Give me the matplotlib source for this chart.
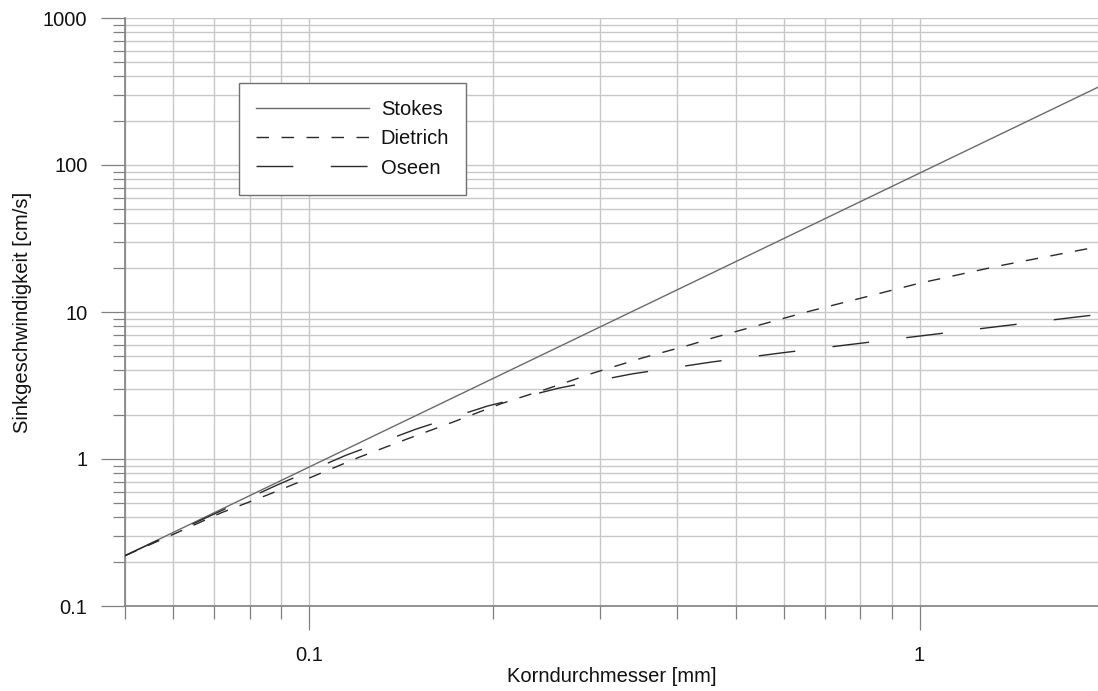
import matplotlib
matplotlib.use("Agg")
import matplotlib.pyplot as plt
from matplotlib.ticker import FixedLocator, FixedFormatter, NullFormatter

plt.rcParams['font.family'] = ['Liberation Sans', 'DejaVu Sans']

# Korndurchmesser [mm] / Sinkgeschwindigkeit [cm/s]
d_stokes = [0.05, 0.1, 0.2, 0.5, 1.0, 2.0]
v_stokes = [0.22, 0.88, 3.52, 22.0, 88.0, 352.0]

d_dietrich = [0.05, 0.0607, 0.0718, 0.0855, 0.102, 0.121, 0.145, 0.172, 0.206,
              0.245, 0.292, 0.351, 0.42, 0.458, 0.653, 1.0, 1.35, 1.95, 2.0]
v_dietrich = [0.22, 0.314, 0.43, 0.569, 0.766, 1.03, 1.37, 1.78, 2.37,
              2.99, 3.84, 4.86, 5.96, 6.65, 10.0, 15.7, 20.6, 27.7, 28.2]

d_oseen = [0.05, 0.068, 0.0887, 0.115, 0.15, 0.196, 0.257, 0.338, 0.457,
           0.592, 0.783, 1.035, 1.367, 1.81, 2.0]
v_oseen = [0.22, 0.40, 0.665, 1.06, 1.6, 2.29, 3.04, 3.79, 4.57,
           5.26, 6.06, 6.98, 8.03, 9.25, 9.7]

x_major = [0.1, 1]
x_labels = ["0.1", "1"]
y_major = [0.1, 1, 10, 100, 1000]
y_labels = ["0.1", "1", "10", "100", "1000"]

fs = 14.5
grid_col = "#c8c8c8"
axis_col = "#808080"

fig = plt.figure(figsize=(10.98, 6.91), dpi=100)
ax = fig.add_axes([125 / 1098, 85 / 691, 973 / 1098, 588 / 691])
ax.set_xscale("log")
ax.set_yscale("log")
ax.set_xlim(0.05, 1.96)
ax.set_ylim(0.1, 1000)

ax.plot(d_stokes, v_stokes, color="#6a6a6a", lw=1.0, label="Stokes", zorder=3)
ax.plot(d_dietrich, v_dietrich, color="#2a2a2a", lw=1.0,
        linestyle=(0, (9, 9)), label="Dietrich", zorder=3)
ax.plot(d_oseen, v_oseen, color="#2a2a2a", lw=1.0,
        linestyle=(0, (26.5, 27)), label="Oseen", zorder=3)

# ticks
x_minor = [k * 10.0 ** e for e in (-2, -1, 0) for k in range(2, 10)]
y_minor = [k * 10.0 ** e for e in (-1, 0, 1, 2) for k in range(2, 10)]
ax.xaxis.set_major_locator(FixedLocator(x_major))
ax.xaxis.set_major_formatter(FixedFormatter(x_labels))
ax.xaxis.set_minor_locator(FixedLocator(x_minor))
ax.xaxis.set_minor_formatter(NullFormatter())
ax.yaxis.set_major_locator(FixedLocator(y_major))
ax.yaxis.set_major_formatter(FixedFormatter(y_labels))
ax.yaxis.set_minor_locator(FixedLocator(y_minor))
ax.yaxis.set_minor_formatter(NullFormatter())

ax.tick_params(which="major", direction="out", length=17, width=0.9,
               color=axis_col, labelsize=fs, labelcolor="#111111")
ax.tick_params(axis="x", which="major", pad=12)
ax.tick_params(axis="y", which="major", pad=10)
ax.tick_params(which="minor", direction="out", length=9, width=0.9, color=axis_col)

ax.grid(True, which="both", color=grid_col, lw=1.0)
ax.set_axisbelow(True)

for side in ("top", "right"):
    ax.spines[side].set_visible(False)
for side in ("left", "bottom"):
    ax.spines[side].set_color(axis_col)
    ax.spines[side].set_linewidth(1.2)

ax.set_xlabel("Korndurchmesser [mm]", fontsize=fs, color="#111111", labelpad=1)
ax.set_ylabel("Sinkgeschwindigkeit [cm/s]", fontsize=fs, color="#111111", labelpad=8)

leg = ax.legend(loc="upper left", bbox_to_anchor=(0.117, 0.889), borderaxespad=0,
                fontsize=fs, handlelength=5.6, handletextpad=0.6,
                labelspacing=0.5, borderpad=0.85, fancybox=False,
                framealpha=1, edgecolor="#707070")
leg.get_frame().set_linewidth(1.0)
for t in leg.get_texts():
    t.set_color("#111111")

fig.savefig("out.png", dpi=100)
